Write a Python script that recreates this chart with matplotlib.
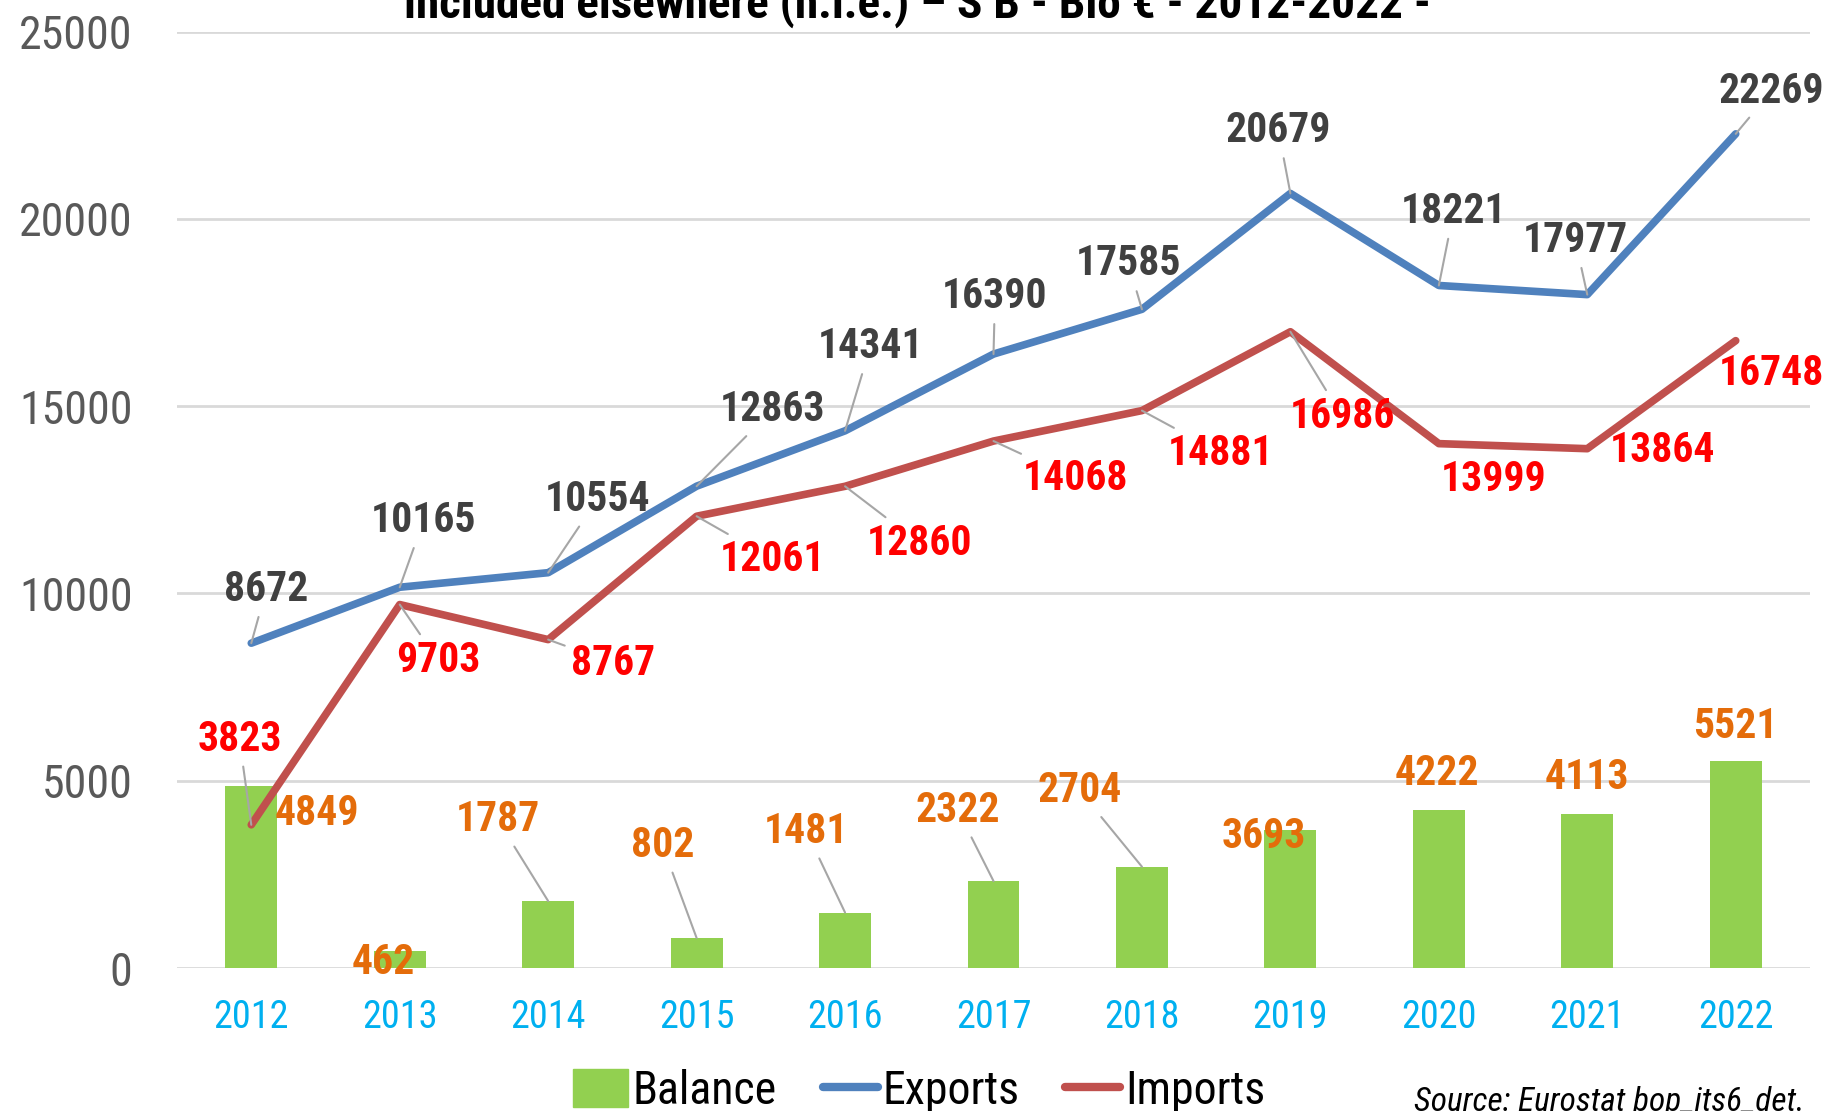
import matplotlib.pyplot as plt
from matplotlib import font_manager as fm
from matplotlib.patches import Patch
from matplotlib.lines import Line2D


def elegir_fuente(candidatas):
    for c in candidatas:
        try:
            fm.findfont(fm.FontProperties(family=c), fallback_to_default=False)
            return c
        except Exception:
            pass
    return 'DejaVu Sans'


fuente = elegir_fuente(['Liberation Sans Narrow', 'Roboto Condensed', 'Open Sans Condensed',
                        'Noto Sans Condensed', 'Lato', 'Roboto'])
plt.rcParams['font.family'] = [fuente, 'DejaVu Sans']

# Datos
years = ['2012', '2013', '2014', '2015', '2016', '2017', '2018', '2019', '2020', '2021', '2022']
exports = [8672, 10165, 10554, 12863, 14341, 16390, 17585, 20679, 18221, 17977, 22269]
imports = [3823, 9703, 8767, 12061, 12860, 14068, 14881, 16986, 13999, 13864, 16748]
balance = [4849, 462, 1787, 802, 1481, 2322, 2704, 3693, 4222, 4113, 5521]

# Posiciones de las etiquetas (desplazamiento respecto al punto) y lineas guia
exp_off = [(0.10, 1428), (0.16, 1773), (0.33, 1946), (0.51, 2037), (0.17, 2242), (0.01, 1533),
           (-0.09, 1211), (-0.08, 1670), (0.10, 1977), (-0.08, 1442), (0.24, 1140)]
exp_lead = [True] * 11
imp_off = [(-0.08, 2286), (0.26, -1505), (0.44, -632), (0.51, -1151), (0.50, -1514), (0.55, -1008),
           (0.53, -1135), (0.35, -2274), (0.37, -970), (0.51, -56), (0.24, -882)]
imp_lead = [True, True, True, True, True, True, True, True, False, False, False]
bal_off = [(0.44, -735), (-0.11, -306), (-0.34, 2171), (-0.23, 2471), (-0.26, 2166), (-0.24, 1886),
           (-0.42, 2034), (-0.18, -171), (-0.01, 983), (0.00, 968), (0.00, 931)]
bal_lead = [False, False, True, True, True, True, True, False, False, False, False]

c_bar = '#92D050'
c_exp = '#4F81BD'
c_imp = '#C0504D'
lead_col = '#A6A6A6'

fig = plt.figure(figsize=(18.31, 11.11), dpi=100)
ax = fig.add_axes([0.0967, 0.1287, 0.8918, 0.8429])

x = list(range(len(years)))
ax.bar(x, balance, width=0.35, color=c_bar, zorder=2)
ax.plot(x, exports, color=c_exp, lw=5.5, solid_capstyle='round', zorder=3)
ax.plot(x, imports, color=c_imp, lw=5.5, solid_capstyle='round', zorder=3)


def etiquetas(vals, offs, leads, color):
    for i, v in enumerate(vals):
        dx, dy = offs[i]
        props = None
        if leads[i]:
            props = dict(arrowstyle='-', color=lead_col, lw=1.5, shrinkA=3, shrinkB=0)
        ax.annotate(str(v), xy=(i, v), xytext=(i + dx, v + dy), ha='center', va='center',
                    fontsize=30, fontweight='bold', color=color, arrowprops=props, zorder=5)


etiquetas(exports, exp_off, exp_lead, '#404040')
etiquetas(imports, imp_off, imp_lead, '#FF0000')
etiquetas(balance, bal_off, bal_lead, '#E46C0A')

ax.set_xlim(-0.5, 10.5)
ax.set_ylim(0, 25000)
ax.set_yticks([0, 5000, 10000, 15000, 20000, 25000])
ax.set_xticks(x)
ax.set_xticklabels(years)
ax.tick_params(axis='y', length=0, labelsize=33, labelcolor='#595959', pad=32)
ax.tick_params(axis='x', length=0, labelsize=27.5, labelcolor='#00B0F0', pad=22)
ax.grid(axis='y', color='#D9D9D9', lw=2)
ax.set_axisbelow(True)
for s in ax.spines.values():
    s.set_visible(False)

fig.text(0.501, 0.984, 'included elsewhere (n.i.e.) \u2013 S B - Bio \u20ac - 2012-2022 -',
         ha='center', va='baseline', fontsize=34, fontweight='bold', color='black')

handles = [Patch(color=c_bar), Line2D([0], [0], color=c_exp, lw=6, solid_capstyle='round'),
           Line2D([0], [0], color=c_imp, lw=6, solid_capstyle='round')]
fig.legend(handles, ['Balance', 'Exports', 'Imports'], loc='center', bbox_to_anchor=(0.502, 0.018),
           ncol=3, frameon=False, fontsize=33, handlelength=1.2, handleheight=0.9,
           handletextpad=0.1, columnspacing=1.0)

fig.text(0.772, -0.006, 'Source: Eurostat bop_its6_det.', ha='left', va='bottom', fontsize=24,
         style='italic', color='black')

plt.savefig('out.png', dpi=100)
